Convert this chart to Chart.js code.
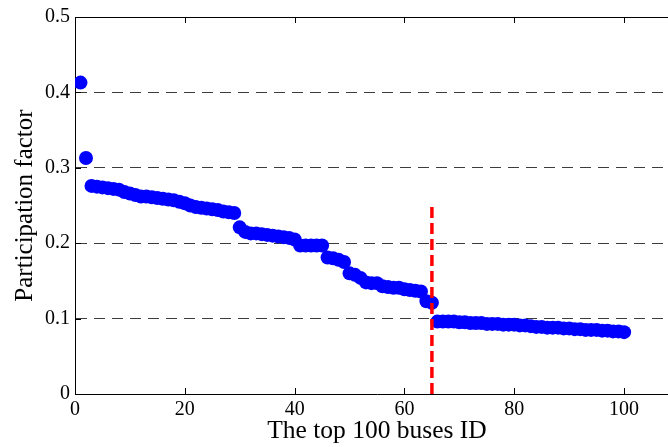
<!DOCTYPE html>
<html>
<head>
<meta charset="utf-8">
<script src="https://cdn.jsdelivr.net/npm/chart.js@4"></script>
<style>
  html, body { margin: 0; padding: 0; background: #fff; overflow: hidden; }
  #wrap { width: 700px; height: 447px; }
</style>
</head>
<body>
<div id="wrap"><canvas id="pf-chart"></canvas></div>
<script>
// participation factor of the top 100 buses
const busIds = [];
for (let i = 1; i <= 100; i++) busIds.push(i);

const pfValues = [
  0.413, 0.313, 0.276, 0.275, 0.274, 0.273, 0.272, 0.271, 0.268, 0.266,
  0.264, 0.262, 0.262, 0.261, 0.260, 0.259, 0.258, 0.257, 0.255, 0.253,
  0.250, 0.248, 0.247, 0.246, 0.245, 0.244, 0.242, 0.241, 0.240, 0.221,
  0.215, 0.213, 0.213, 0.212, 0.211, 0.210, 0.209, 0.208, 0.207, 0.205,
  0.197, 0.197, 0.197, 0.197, 0.197, 0.181, 0.180, 0.178, 0.175, 0.160,
  0.158, 0.154, 0.148, 0.147, 0.147, 0.143, 0.142, 0.141, 0.141, 0.139,
  0.138, 0.137, 0.136, 0.123, 0.121, 0.096, 0.096, 0.096, 0.096, 0.095,
  0.095, 0.094, 0.094, 0.094, 0.093, 0.093, 0.093, 0.092, 0.092, 0.092,
  0.091, 0.091, 0.090, 0.089, 0.089, 0.088, 0.088, 0.088, 0.087, 0.087,
  0.086, 0.086, 0.085, 0.085, 0.085, 0.084, 0.084, 0.083, 0.083, 0.082
];

// red cut-off marker
const cutX = [65, 65];
const cutY = [0, 0.25];

const xTicks = [0, 20, 40, 60, 80, 100];
const yTicks = [0, 0.1, 0.2, 0.3, 0.4, 0.5];

const serif = "'Liberation Serif', 'Times New Roman', serif";

// top border + inward tick marks like matlab
const frameLines = {
  id: 'frameLines',
  afterDraw(chart) {
    const ctx = chart.ctx;
    const a = chart.chartArea;
    const xs = chart.scales.x, ys = chart.scales.y;
    ctx.save();
    ctx.strokeStyle = '#000';
    ctx.lineWidth = 1;
    ctx.beginPath();
    ctx.moveTo(a.left, a.top + 0.5);
    ctx.lineTo(a.right, a.top + 0.5);
    xTicks.forEach(function (v) {
      const px = Math.round(xs.getPixelForValue(v)) + 0.5;
      ctx.moveTo(px, a.bottom);
      ctx.lineTo(px, a.bottom - 6);
      ctx.moveTo(px, a.top);
      ctx.lineTo(px, a.top + 6);
    });
    yTicks.forEach(function (v) {
      const py = Math.round(ys.getPixelForValue(v)) + 0.5;
      ctx.moveTo(a.left, py);
      ctx.lineTo(a.left + 6, py);
    });
    ctx.stroke();
    ctx.restore();
  }
};

const pfData = {
  datasets: [
    {
      data: cutX.map((x, i) => ({ x: x, y: cutY[i] })),
      showLine: true,
      borderColor: '#ff0000',
      borderWidth: 3.5,
      borderDash: [11, 5],
      pointRadius: 0,
      order: 0
    },
    {
      data: busIds.map((id, i) => ({ x: id, y: pfValues[i] })),
      showLine: false,
      backgroundColor: '#0000ff',
      borderWidth: 0,
      pointRadius: 7,
      order: 1
    }
  ]
};

const pfOptions = {
  responsive: true,
  maintainAspectRatio: false,
  animation: false,
  layout: { padding: { top: 16, right: 21, left: 0, bottom: 0 } },
  plugins: { legend: { display: false }, tooltip: { enabled: false } },
  scales: {
    x: {
      type: 'linear',
      min: 0,
      max: 110,
      afterBuildTicks: s => { s.ticks = xTicks.map(v => ({ value: v })); },
      afterFit: s => { s.height = 53; },
      grid: { display: false, drawTicks: false },
      border: { display: true, color: '#000', width: 1 },
      ticks: { color: '#000', padding: 4, font: { family: serif, size: 20 } },
      title: {
        display: true,
        text: 'The top 100 buses ID',
        color: '#000',
        padding: { top: 0, bottom: 0 },
        font: { family: serif, size: 25.5 }
      }
    },
    y: {
      min: 0,
      max: 0.5,
      afterBuildTicks: s => { s.ticks = yTicks.map(v => ({ value: v })); },
      afterFit: s => { s.width = 75; },
      grid: {
        drawTicks: false,
        color: c => (c.tick && c.tick.value > 0 && c.tick.value < 0.5) ? '#3c3c3c' : 'rgba(0,0,0,0)',
        lineWidth: 1
      },
      border: { display: true, color: '#000', width: 1, dash: [11, 7] },
      ticks: {
        color: '#000',
        padding: 5,
        font: { family: serif, size: 20 },
        callback: v => String(Math.round(v * 10) / 10)
      },
      title: {
        display: true,
        text: 'Participation factor',
        color: '#000',
        padding: { top: 10, bottom: 0 },
        font: { family: serif, size: 25 }
      }
    }
  }
};

const pfChart = new Chart(document.getElementById('pf-chart'), {
  type: 'scatter',
  data: pfData,
  options: pfOptions,
  plugins: [frameLines]
});
</script>
</body>
</html>
